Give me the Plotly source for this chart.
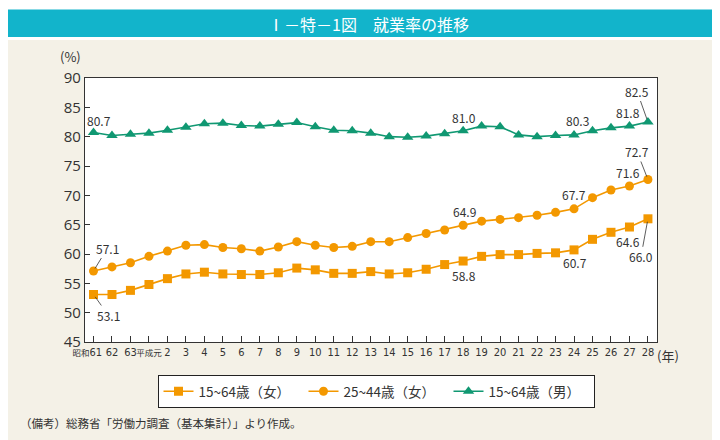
import plotly.graph_objects as go

# ---- data ----
categories = ["昭和61", "62", "63", "平成元", "2", "3", "4", "5", "6", "7", "8", "9", "10",
              "11", "12", "13", "14", "15", "16", "17", "18", "19", "20", "21", "22",
              "23", "24", "25", "26", "27", "28"]

female_15_64 = [53.1, 53.1, 53.8, 54.8, 55.8, 56.6, 56.9, 56.6, 56.5, 56.5, 56.8, 57.6, 57.3,
                56.7, 56.7, 57.0, 56.6, 56.8, 57.4, 58.2, 58.8, 59.6, 59.9, 59.9, 60.1,
                60.2, 60.7, 62.5, 63.7, 64.6, 66.0]
female_25_44 = [57.1, 57.8, 58.5, 59.6, 60.5, 61.5, 61.6, 61.1, 60.9, 60.5, 61.2, 62.1, 61.5,
                61.1, 61.3, 62.1, 62.1, 62.8, 63.5, 64.1, 64.9, 65.6, 65.9, 66.2, 66.6,
                67.1, 67.7, 69.6, 70.9, 71.6, 72.7]
male_15_64 = [80.7, 80.2, 80.4, 80.6, 81.1, 81.6, 82.2, 82.3, 81.9, 81.8, 82.1, 82.4, 81.7,
              81.1, 81.0, 80.6, 80.0, 79.9, 80.1, 80.5, 81.0, 81.8, 81.7, 80.3, 80.0,
              80.2, 80.3, 81.0, 81.5, 81.8, 82.5]

series_names = ["15~64歳（女）", "25~44歳（女）", "15~64歳（男）"]
y_ticks = [45, 50, 55, 60, 65, 70, 75, 80, 85, 90]

# ---- style ----
ORANGE = "#f39800"
GREEN = "#109872"
TEAL = "#12b4cb"
BEIGE = "#f4f1e7"
TXT = "#333333"
FONT = "Noto Sans CJK JP"

x_idx = list(range(len(categories)))


def tick_label(t):
    # era-name characters are set smaller/narrower, as in the reference
    kanji = "".join(c for c in t if ord(c) > 255)
    rest = "".join(c for c in t if ord(c) <= 255)
    if not kanji:
        return t
    out = f'<span style="font-size:8.5px">{kanji}</span>{rest}'
    if rest:
        # invisible padding so the label sits a little left of its tick
        out += '<span style="color:rgba(0,0,0,0)">00</span>'
    return out


fig = go.Figure()
fig.add_trace(go.Scatter(x=x_idx, y=female_15_64, name=series_names[0], mode="lines+markers",
                         line=dict(color=ORANGE, width=1.6),
                         marker=dict(symbol="square", size=9, color=ORANGE)))
fig.add_trace(go.Scatter(x=x_idx, y=female_25_44, name=series_names[1], mode="lines+markers",
                         line=dict(color=ORANGE, width=1.6),
                         marker=dict(symbol="circle", size=9, color=ORANGE)))
fig.add_trace(go.Scatter(x=x_idx, y=male_15_64, name=series_names[2], mode="lines+markers",
                         line=dict(color=GREEN, width=1.6),
                         marker=dict(symbol="triangle-up", size=10, color=GREEN)))

# plot area in pixels
PX0, PX1, PY0, PY1 = 77, 649, 70, 334
W, H = PX1 - PX0, PY1 - PY0


def pxx(p):
    return (p - PX0) / W


def pxy(p):
    return (PY1 - p) / H


shapes = [
    dict(type="rect", xref="paper", yref="paper", x0=pxx(0), x1=pxx(720), y0=pxy(32), y1=pxy(0),
         fillcolor="white", line=dict(width=0), layer="below"),
    dict(type="rect", xref="paper", yref="paper", x0=pxx(0), x1=pxx(720), y0=pxy(29), y1=pxy(1.5),
         fillcolor=TEAL, line=dict(width=0), layer="below"),
    dict(type="rect", xref="paper", yref="paper", x0=pxx(0), x1=pxx(720), y0=pxy(440), y1=pxy(434),
         fillcolor="white", line=dict(width=0), layer="below"),
]

annotations = [
    dict(text="Ⅰ－特－1図　就業率の推移", xref="paper", yref="paper", x=pxx(360), y=pxy(16),
         showarrow=False, font=dict(family=FONT, size=16, color="white"), xanchor="center", yanchor="middle"),
    dict(text="(%)", xref="paper", yref="paper", x=pxx(62), y=pxy(49),
         showarrow=False, font=dict(family=FONT, size=13, color=TXT), xanchor="center", yanchor="middle"),
    dict(text="(年)", xref="paper", yref="paper", x=pxx(647), y=pxy(347),
         showarrow=False, font=dict(family=FONT, size=13, color=TXT), xanchor="left", yanchor="middle"),
    dict(text="（備考）総務省「労働力調査（基本集計）」より作成。", xref="paper", yref="paper",
         x=pxx(10), y=pxy(415), showarrow=False, font=dict(family=FONT, size=11.5, color=TXT),
         xanchor="left", yanchor="middle"),
]

LBL = dict(family=FONT, size=12, color=TXT)

# plain labels: (series, index, xshift, yshift)
plain = [
    (male_15_64, 0, 5, 12), (male_15_64, 20, 1, 13), (male_15_64, 26, 3, 14), (male_15_64, 29, -1, 14),
    (female_25_44, 20, 1, 14), (female_25_44, 26, 0, 14), (female_25_44, 29, -1, 13),
    (female_15_64, 20, 1, -14), (female_15_64, 26, 1, -13), (female_15_64, 29, -1, -14),
]
for s, i, xs, ys in plain:
    annotations.append(dict(x=i, y=s[i], text=f"{s[i]:.1f}", showarrow=False, xshift=xs, yshift=ys,
                            font=LBL, xanchor="center", yanchor="middle"))

# labels with leader lines: (series, index, ax, ay)
leader = [
    (male_15_64, 30, -11, -31), (female_25_44, 30, -11, -28), (female_15_64, 30, -7, 38),
    (female_25_44, 0, 14, -23), (female_15_64, 0, 15, 21),
]
for s, i, ax, ay in leader:
    annotations.append(dict(x=i, y=s[i], text=f"{s[i]:.1f}", showarrow=True, arrowhead=0,
                            arrowwidth=0.8, arrowcolor=TXT, ax=ax, ay=ay, standoff=3,
                            font=LBL, xanchor="center", yanchor="middle"))

fig.update_layout(
    width=720, height=440,
    margin=dict(l=PX0, r=720 - PX1, t=PY0, b=440 - PY1, pad=0),
    paper_bgcolor=BEIGE, plot_bgcolor="white",
    showlegend=True,
    legend=dict(orientation="h", x=pxx(368), y=pxy(367), xanchor="center", yanchor="top",
                bgcolor="white", bordercolor="#222222", borderwidth=1,
                font=dict(family=FONT, size=13.5, color=TXT), itemwidth=30,
                entrywidth=100, entrywidthmode="pixels", tracegroupgap=0),
    shapes=shapes, annotations=annotations,
    font=dict(family=FONT, color=TXT),
)
fig.update_xaxes(range=[-0.46, 30.49], tickmode="array", tickvals=x_idx,
                 ticktext=[tick_label(t) for t in categories],
                 ticks="inside", ticklen=6, tickcolor="#333", tickwidth=1,
                 showline=True, linecolor="#333", linewidth=1.2, mirror=True,
                 showgrid=False, zeroline=False,
                 tickfont=dict(family="DejaVu Sans Condensed, " + FONT, size=11, color=TXT),
                 tickangle=0)
fig.update_yaxes(range=[45, 90], tickmode="array", tickvals=y_ticks,
                 ticks="inside", ticklen=5, tickcolor="#333", tickwidth=1,
                 showline=True, linecolor="#333", linewidth=1.2, mirror=True,
                 showgrid=False, zeroline=False,
                 tickfont=dict(family="Open Sans", size=15, color=TXT))

fig.write_html("out.html")
